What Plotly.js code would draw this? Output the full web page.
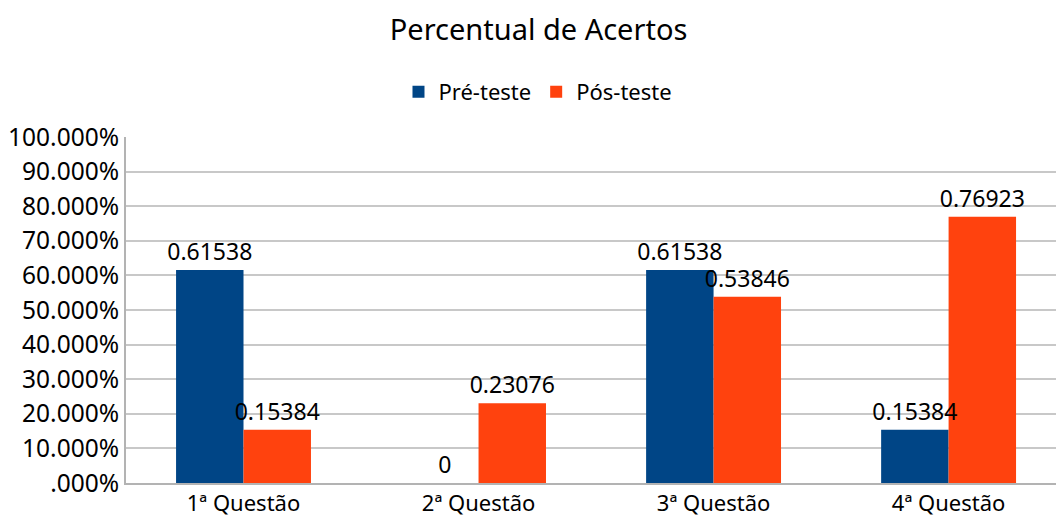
<!DOCTYPE html>
<html><head><meta charset="utf-8">
<script src="https://cdn.plot.ly/plotly-3.0.1.min.js"></script>
<style>body{margin:0}#c{width:1056px;height:525px}</style>
</head><body><div id="c"></div>
<script>
const categories = ["1ª Questão", "2ª Questão", "3ª Questão", "4ª Questão"];
const preTeste = [0.61538, 0, 0.61538, 0.15384];
const posTeste = [0.15384, 0.23076, 0.53846, 0.76923];
const tickValues = [0, 0.1, 0.2, 0.3, 0.4, 0.5, 0.6, 0.7, 0.8, 0.9, 1.0];
const tickLabels = [".000%", "10.000%", "20.000%", "30.000%", "40.000%", "50.000%", "60.000%", "70.000%", "80.000%", "90.000%", "100.000%"];

const F = "Noto Sans, sans-serif";
const TF = {family: F, size: 23, color: "#000"};
const traces = [
  {type: "bar", name: "Pré-teste", x: categories, y: preTeste, offsetgroup: "pre",
   marker: {color: "#004586"}},
  {type: "bar", name: "Pós-teste", x: categories, y: posTeste, offsetgroup: "pos",
   marker: {color: "#ff420e"}},
  {type: "bar", name: "Pré-teste", x: categories, y: preTeste, offsetgroup: "pre", showlegend: false,
   text: preTeste.map(String), textposition: "outside", constraintext: "none", cliponaxis: false,
   textfont: TF, marker: {color: "rgba(0,0,0,0)"}},
  {type: "bar", name: "Pós-teste", x: categories, y: posTeste, offsetgroup: "pos", showlegend: false,
   text: posTeste.map(String), textposition: "outside", constraintext: "none", cliponaxis: false,
   textfont: TF, marker: {color: "rgba(0,0,0,0)"}}
];
const layout = {
  width: 1056, height: 525,
  margin: {l: 126, r: 0, t: 137, b: 42, autoexpand: false},
  paper_bgcolor: "#fff", plot_bgcolor: "#fff",
  font: {family: F, color: "#000"},
  title: {text: "Percentual de Acertos", font: {family: F, size: 29, color: "#000"},
          x: 0.51, xanchor: "center", y: 0.943, yanchor: "middle", yref: "container"},
  barmode: "group", bargap: 0.426, bargroupgap: 0,
  showlegend: true,
  legend: {orientation: "h", x: 0.443, xanchor: "center", y: 1.13, yanchor: "middle",
           font: {family: F, size: 22, color: "#000"}, itemwidth: 30},
  xaxis: {range: [-0.5, 3.457], showgrid: false, showline: true, linecolor: "#b3b3b3", linewidth: 2,
          ticks: "", tickangle: 0, tickfont: {family: F, size: 22, color: "#000"}},
  yaxis: {range: [0, 1], tickvals: tickValues, ticktext: tickLabels, showgrid: true,
          gridcolor: "#c8c8c8", gridwidth: 2, showline: true, linecolor: "#b3b3b3", linewidth: 2,
          zeroline: false, ticks: "", tickfont: {family: F, size: 24.5, color: "#000"}},
};
Plotly.newPlot("c", traces, layout, {displayModeBar: false, staticPlot: true});
</script>
</body></html>
